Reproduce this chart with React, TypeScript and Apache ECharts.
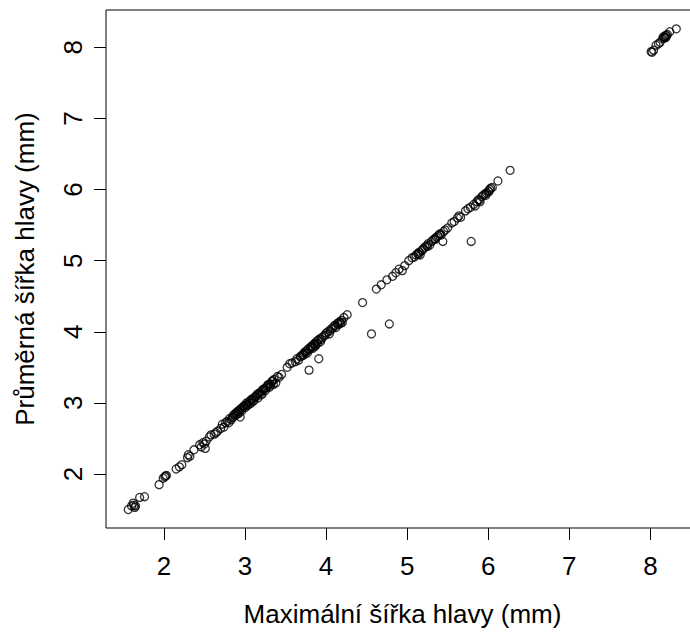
import React, { useEffect, useRef } from "react";
import * as echarts from "echarts";

// Maximální šířka hlavy (mm)
const maxWidth: number[] = [
  1.56, 1.60, 1.62, 1.64, 1.63, 1.65, 1.70, 1.76, 1.94, 1.99, 2.01, 2.02, 2.03,
  2.15, 2.19, 2.22, 2.29, 2.32, 2.30, 2.37, 2.44, 2.46, 2.48, 2.50, 2.51, 2.52, 2.56, 2.58, 2.62, 2.64, 2.66, 2.70,
  2.72, 2.74, 2.76, 2.78, 2.80, 2.81, 2.83, 2.85, 2.86, 2.88, 2.89, 2.90, 2.91, 2.92, 2.93, 2.94, 2.95, 2.96, 2.97, 2.98,
  3.00, 3.01, 3.02, 3.03, 3.05, 3.06, 3.07, 3.08, 3.10, 3.11, 3.12, 3.14, 3.15, 3.16, 3.18, 3.20, 3.21, 3.22, 3.24, 3.25,
  3.27, 3.28, 3.30, 3.31, 3.33, 3.35, 3.36, 3.38, 3.40, 3.42, 3.45,
  2.84, 2.87, 2.93, 2.99, 3.04, 3.09, 3.13, 3.17, 3.19, 3.23, 3.26, 3.29, 3.32, 3.34,
  3.52, 3.55, 3.58, 3.62, 3.64, 3.66, 3.68, 3.70, 3.71, 3.73, 3.74, 3.76, 3.77, 3.78, 3.79, 3.80, 3.81, 3.82, 3.84, 3.85,
  3.86, 3.87, 3.88, 3.89, 3.90, 3.91, 3.92, 3.93, 3.95, 3.97, 4.00, 4.02, 4.04, 4.06, 4.08, 4.10, 4.12, 4.14, 4.15, 4.17,
  4.19, 4.20, 4.22, 4.26,
  3.72, 3.75, 3.83, 3.86, 3.94, 3.99, 4.05, 4.11, 4.16, 4.18,
  4.45, 4.56, 4.78, 4.62, 4.68, 4.75, 4.82, 4.86, 4.90, 4.94, 4.97,
  5.02, 5.06, 5.09, 5.11, 5.13, 5.15, 5.16, 5.18, 5.20, 5.22, 5.24, 5.26, 5.28, 5.30, 5.32, 5.34, 5.36, 5.38, 5.40, 5.42,
  5.44, 5.45, 5.47, 5.50, 5.55, 5.58, 5.62, 5.64, 5.66,
  5.14, 5.19, 5.25, 5.35, 5.41,
  5.72, 5.75, 5.78, 5.79, 5.82, 5.84, 5.86, 5.88, 5.90, 5.92, 5.94, 5.96, 5.98, 6.00, 6.02, 6.03, 6.05, 6.12, 6.27,
  5.89, 5.97, 6.01,
  8.01, 8.02, 8.04, 8.07, 8.10, 8.12, 8.15, 8.16, 8.18, 8.19, 8.20, 8.21, 8.24, 8.32,
  8.17, 8.19,
];

// Průměrná šířka hlavy (mm)
const meanWidth: number[] = [
  1.50, 1.55, 1.59, 1.53, 1.56, 1.55, 1.67, 1.68, 1.85, 1.94, 1.96, 1.97, 1.98,
  2.07, 2.10, 2.13, 2.23, 2.25, 2.27, 2.34, 2.41, 2.38, 2.44, 2.42, 2.36, 2.46, 2.52, 2.55, 2.56, 2.58, 2.60, 2.64,
  2.70, 2.66, 2.72, 2.74, 2.72, 2.78, 2.76, 2.80, 2.83, 2.82, 2.86, 2.84, 2.88, 2.85, 2.90, 2.80, 2.92, 2.89, 2.93, 2.95,
  2.93, 2.97, 3.00, 2.96, 3.01, 3.03, 2.99, 3.05, 3.06, 3.03, 3.08, 3.10, 3.12, 3.07, 3.14, 3.16, 3.12, 3.19, 3.20, 3.17,
  3.23, 3.25, 3.22, 3.27, 3.30, 3.26, 3.33, 3.28, 3.37, 3.36, 3.40,
  2.79, 2.84, 2.87, 2.96, 2.98, 3.02, 3.09, 3.13, 3.11, 3.18, 3.21, 3.26, 3.25, 3.31,
  3.50, 3.55, 3.56, 3.58, 3.62, 3.60, 3.65, 3.66, 3.68, 3.70, 3.72, 3.73, 3.70, 3.76, 3.46, 3.75, 3.78, 3.80, 3.77, 3.82,
  3.84, 3.80, 3.86, 3.83, 3.88, 3.62, 3.90, 3.86, 3.92, 3.94, 3.98, 4.00, 3.97, 4.04, 4.05, 4.08, 4.06, 4.12, 4.10, 4.14,
  4.16, 4.13, 4.20, 4.24,
  3.67, 3.70, 3.79, 3.81, 3.89, 3.95, 4.01, 4.09, 4.13, 4.12,
  4.41, 3.97, 4.11, 4.60, 4.66, 4.73, 4.78, 4.83, 4.88, 4.86, 4.93,
  5.00, 5.04, 5.05, 5.08, 5.10, 5.12, 5.08, 5.14, 5.17, 5.19, 5.21, 5.24, 5.22, 5.27, 5.29, 5.31, 5.33, 5.35, 5.37, 5.36,
  5.27, 5.41, 5.43, 5.46, 5.53, 5.55, 5.60, 5.63, 5.61,
  5.09, 5.15, 5.20, 5.30, 5.38,
  5.70, 5.73, 5.75, 5.27, 5.79, 5.77, 5.83, 5.86, 5.83, 5.90, 5.92, 5.94, 5.95, 5.98, 6.00, 6.02, 6.03, 6.12, 6.27,
  5.85, 5.92, 5.97,
  7.94, 7.93, 7.96, 8.03, 8.05, 8.07, 8.12, 8.15, 8.13, 8.17, 8.16, 8.18, 8.22, 8.26,
  8.14, 8.14,
];

const tickValues: number[] = [2, 3, 4, 5, 6, 7, 8];

const xTitle = "Maximální šířka hlavy (mm)";
const yTitle = "Průměrná šířka hlavy (mm)";

const FONT = "'Liberation Sans', Arial, Helvetica, sans-serif";

export default function App() {
  const ref = useRef<HTMLDivElement>(null);

  useEffect(() => {
    if (!ref.current) return;
    const chart = echarts.init(ref.current, null, { renderer: "svg" });
    const data = maxWidth.map((x, i) => [x, meanWidth[i]]);
    const labelStyle = { fontFamily: FONT, fontSize: 26, color: "#000" };
    chart.setOption({
      animation: false,
      backgroundColor: "#fff",
      grid: {
        left: 106,
        top: 10,
        width: 593,
        height: 518,
        outerBoundsMode: "none",
        containLabel: false,
        show: true,
        borderColor: "#000",
        borderWidth: 1,
        backgroundColor: "transparent",
      },
      xAxis: {
        type: "value",
        min: 1.285,
        max: 8.6,
        axisLine: { show: false },
        splitLine: { show: false },
        axisTick: {
          show: true,
          inside: false,
          length: 12,
          lineStyle: { color: "#000", width: 1 },
          customValues: tickValues,
        },
        axisLabel: {
          ...labelStyle,
          margin: 25,
          customValues: tickValues,
        },
        name: xTitle,
        nameLocation: "middle",
        nameGap: 73,
        nameTextStyle: labelStyle,
      },
      yAxis: {
        type: "value",
        min: 1.24,
        max: 8.525,
        axisLine: { show: false },
        splitLine: { show: false },
        axisTick: {
          show: true,
          inside: false,
          length: 12,
          lineStyle: { color: "#000", width: 1 },
          customValues: tickValues,
        },
        axisLabel: {
          ...labelStyle,
          margin: 20,
          rotate: 90,
          customValues: tickValues,
        },
        name: yTitle,
        nameLocation: "middle",
        nameGap: 68,
        nameRotate: 90,
        nameTextStyle: labelStyle,
      },
      series: [
        {
          type: "scatter",
          data,
          symbol: "circle",
          symbolSize: 8,
          itemStyle: {
            color: "rgba(0,0,0,0)",
            borderColor: "#000",
            borderWidth: 1.3,
          },
          emphasis: { disabled: true },
        },
      ],
    });
    return () => chart.dispose();
  }, []);

  return (
    <div
      ref={ref}
      style={{ position: "absolute", left: 0, top: 0, width: 690, height: 632 }}
    />
  );
}
